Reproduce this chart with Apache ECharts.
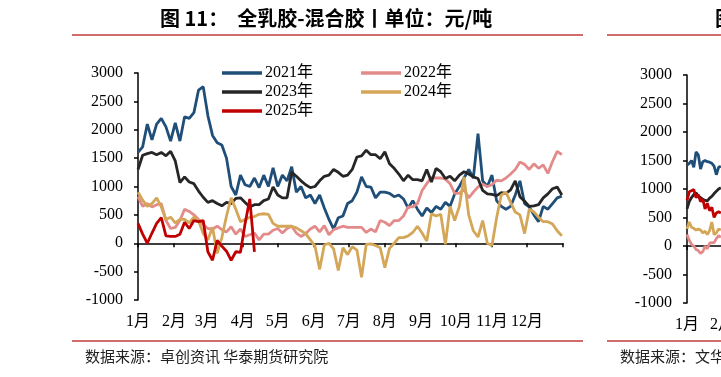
<!DOCTYPE html>
<html><head><meta charset="utf-8">
<script src="https://cdn.jsdelivr.net/npm/echarts@6/dist/echarts.min.js"></script>
<style>html,body{margin:0;padding:0;background:#fff;overflow:hidden;width:721px;height:377px}#c{width:1200px;height:377px}</style>
</head><body><div id="c"></div>
<script>
// ---------- data ----------
const monthLabels = ['1月','2月','3月','4月','5月','6月','7月','8月','9月','10月','11月','12月'];
const monthStartDays = [0,31,59,90,120,151,181,212,243,273,304,334];
const tickDays = [0,31,59,90,120,151,181,212,243,273,304,334,365];

const seriesNames = ['2021年','2022年','2023年','2024年','2025年'];

// day of year of each sample
const sampleDays = [0,4,8,12,16,20,24,28,32,36,40,44,48,52,56,60,64,68,72,76,80,84,88,92,96,100,104,108,112,116,120,124,128,132,136,140,144,148,152,156,160,164,168,172,176,180,184,188,192,196,200,204,208,212,216,220,224,228,232,236,240,244,248,252,256,260,264,268,272,276,280,284,288,292,296,300,304,308,312,316,320,324,328,332,336,340,344,348,352,356,360,364];

const v2021 = [1600,1700,2100,1820,2100,2200,2050,1800,2120,1800,
  2230,2200,2300,2700,2760,2250,1900,1770,1730,1500,
  1000,850,1200,1030,1000,1150,980,1200,1000,1330,
  1000,1200,1100,1350,900,1000,800,850,700,850,
  620,420,250,450,480,700,750,900,1170,1000,
  990,800,900,900,880,820,850,780,620,750,
  600,480,620,540,650,600,720,650,870,1000,
  1150,1300,1150,1930,1100,1000,1200,750,650,600,
  650,850,1100,700,640,500,380,650,600,700,
  800,830];
const v2022 = [820,650,700,640,680,700,400,260,280,400,
  600,560,500,420,330,260,250,300,240,200,
  290,160,250,120,150,180,60,160,160,230,
  260,180,260,300,180,120,170,250,300,200,
  310,150,240,270,300,280,280,280,280,190,
  250,200,400,370,310,400,400,480,640,640,
  700,930,1050,1160,1150,1150,1130,1050,880,880,
  950,800,900,990,1040,1000,1030,1110,1100,1150,
  1220,1300,1430,1390,1300,1400,1320,1380,1230,1440,
  1620,1560];
const v2023 = [1300,1550,1580,1600,1560,1600,1540,1620,1450,1070,
  1170,1080,1050,920,810,720,750,700,660,720,
  700,790,800,720,640,680,680,750,780,990,
  850,800,800,1250,1180,1100,1030,980,1000,1100,
  1180,1200,1300,1250,1180,1200,1300,1520,1540,1640,
  1560,1560,1490,1610,1400,1320,1220,1100,1200,1120,
  1120,1100,1300,1080,1320,1260,1140,1180,1100,1200,
  1260,1220,1170,1140,930,870,860,840,890,880,
  940,1100,820,740,650,660,680,800,870,960,
  990,850];
const v2024 = [900,760,650,700,800,640,420,460,360,420,
  420,360,460,400,170,60,280,-180,100,480,
  800,600,380,420,460,470,510,520,510,350,
  300,300,300,300,270,220,170,60,-50,-460,
  -30,0,-100,-480,-80,-200,-60,-120,-600,-20,
  -10,-40,-80,-430,-90,0,100,100,130,190,
  300,180,40,520,480,510,-20,650,400,650,
  1170,500,220,110,400,0,-40,450,850,900,
  720,550,500,170,600,550,460,380,380,340,
  220,130];
const v2025 = [350,160,0,180,350,450,130,120,120,160,
  370,260,400,380,400,-150,-300,50,-50,-140,
  -300,-150,-160,350,780,-150];

// partial second chart (right edge)
const rightDays = [0,2,4,6,8,10,12,14,16,18,20,22,24,26,28,30];
const r2021 = [1420,1450,1500,1380,1650,1600,1350,1480,1500,1480,1470,1450,1400,1250,1380,1400];
const r2022 = [200,100,30,0,-60,-80,-130,-100,0,-50,50,60,60,130,180,150];
const r2023 = [650,780,850,900,930,880,850,820,800,790,840,870,920,960,1000,1020];
const r2024 = [300,420,330,310,280,300,280,230,260,200,270,420,200,230,300,280];
const r2025 = [800,950,970,990,850,900,780,820,650,750,620,680,500,580,600,580];

const colors = ['#1F4E79','#E38B8A','#262626','#D4A657','#C00000'];

// ---------- chart ----------
const SERIF = '"Liberation Serif", "Times New Roman", "Noto Sans CJK SC", serif';

function pairs(days, vals){ return vals.map((v,i)=>[days[i], v]); }

function mkSeries(name, days, vals, color, xi, yi){
  return {
    name: name, type: 'line', xAxisIndex: xi, yAxisIndex: yi,
    data: pairs(days, vals), symbol: 'none', showSymbol: false,
    lineStyle: {color: color, width: 2.8}, itemStyle: {color: color},
    emphasis: {disabled: true}, silent: true, clip: true
  };
}

const leftVals = [v2021, v2022, v2023, v2024, v2025];
const rightVals = [r2021, r2022, r2023, r2024, r2025];
const series = [];
seriesNames.forEach((n,k)=>{
  const days = sampleDays.slice(0, leftVals[k].length);
  series.push(mkSeries(n, days, leftVals[k], colors[k], 0, 0));
});
seriesNames.forEach((n,k)=>{
  series.push(mkSeries('R' + n, rightDays, rightVals[k], colors[k], 2, 1));
});

function labelAxis(gi){
  return {
    type: 'value', gridIndex: gi, min: 0, max: 365, position: 'bottom',
    axisLine: {show: false, onZero: false}, axisTick: {show: false}, splitLine: {show: false},
    axisLabel: {
      customValues: monthStartDays, margin: 14,
      fontFamily: SERIF, fontSize: 16, color: '#000',
      formatter: v => monthLabels[monthStartDays.indexOf(v)]
    }
  };
}
function zeroAxis(gi){
  return {
    type: 'value', gridIndex: gi, min: 0, max: 365, position: 'bottom',
    axisLine: {show: true, onZero: true, lineStyle: {color: '#000', width: 1.5}},
    axisTick: {show: true, customValues: tickDays, length: 4, inside: false, lineStyle: {color: '#000', width: 1.5}},
    axisLabel: {show: false}, splitLine: {show: false}
  };
}
function yAx(gi){
  return {
    type: 'value', gridIndex: gi, min: -1000, max: 3000, interval: 500,
    axisLine: {show: true, lineStyle: {color: '#000', width: 1.5}},
    axisTick: {show: true, length: 4, inside: false, lineStyle: {color: '#000', width: 1.5}},
    splitLine: {show: false},
    axisLabel: {margin: 15, fontFamily: SERIF, fontSize: 16, color: '#000', formatter: v => String(v)}
  };
}

const legendText = {fontFamily: SERIF, fontSize: 16, color: '#000', padding: [0,0,0,-2]};
const legendCommon = {orient: 'vertical', icon: 'rect', itemWidth: 40, itemHeight: 3.5, itemGap: 3,
  textStyle: legendText, selectedMode: false, padding: 0};

const option = {
  animation: false,
  backgroundColor: '#fff',
  grid: [
    {left: 138, top: 73, width: 425, height: 227},
    {left: 687, top: 75, width: 412, height: 228}
  ],
  xAxis: [labelAxis(0), zeroAxis(0), labelAxis(1), zeroAxis(1)],
  yAxis: [yAx(0), yAx(1)],
  legend: [
    Object.assign({left: 222, top: 65, data: ['2021年','2023年','2025年']}, legendCommon),
    Object.assign({left: 361, top: 65, data: ['2022年','2024年']}, legendCommon)
  ],
  series: series,
  graphic: [
    {type: 'text', left: 160, top: 8, style: {text: '图 11：  全乳胶-混合胶丨单位：元/吨', font: 'bold 20px "Noto Sans CJK SC"', fill: '#000'}},
    {type: 'text', left: 715, top: 8, style: {text: '图 12：  全乳胶-烟片胶', font: 'bold 20px "Noto Sans CJK SC"', fill: '#000'}},
    {type: 'line', shape: {x1: 72, y1: 35, x2: 583, y2: 35}, style: {stroke: '#CF6C6C', lineWidth: 2}},
    {type: 'line', shape: {x1: 607, y1: 35, x2: 1120, y2: 35}, style: {stroke: '#CF6C6C', lineWidth: 2}},
    {type: 'line', shape: {x1: 72, y1: 341, x2: 583, y2: 341}, style: {stroke: '#CF6C6C', lineWidth: 2}},
    {type: 'line', shape: {x1: 607, y1: 341, x2: 1120, y2: 341}, style: {stroke: '#CF6C6C', lineWidth: 2}},
    {type: 'text', left: 85, top: 349, style: {text: '数据来源：卓创资讯 华泰期货研究院', font: '15px "Noto Sans CJK SC"', fill: '#222'}},
    {type: 'text', left: 620, top: 349, style: {text: '数据来源：文华财经 华泰期货研究院', font: '15px "Noto Sans CJK SC"', fill: '#222'}}
  ]
};

const chart = echarts.init(document.getElementById('c'), null, {renderer: 'canvas', width: 1200, height: 377});
chart.setOption(option);
</script></body></html>
